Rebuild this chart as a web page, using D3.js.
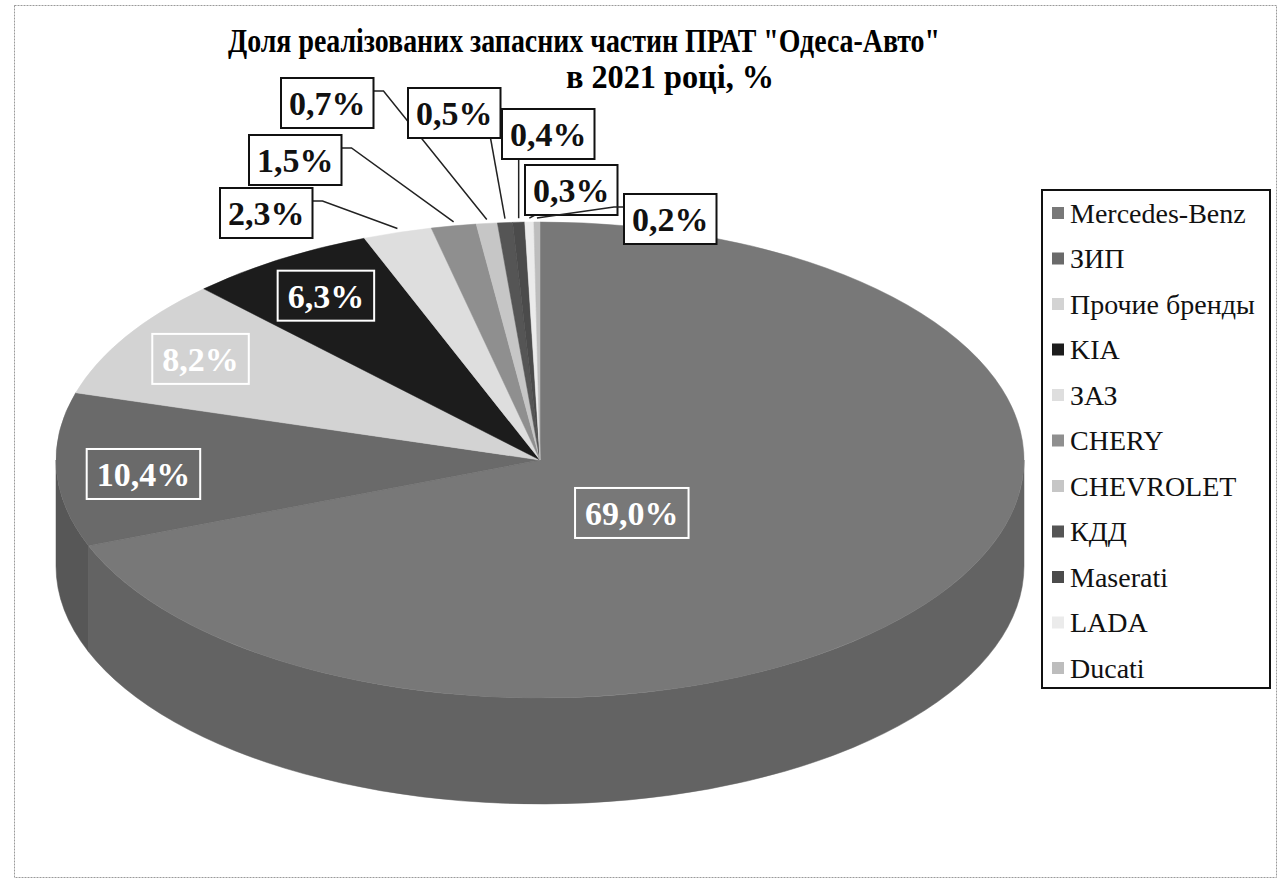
<!DOCTYPE html>
<html>
<head>
<meta charset="utf-8">
<script src="https://cdn.jsdelivr.net/npm/d3@7"></script>
<style>
  body { margin: 0; background: #fff; }
  svg { display: block; font-family: "Liberation Serif", "Times New Roman", serif; }
</style>
</head>
<body>
<svg id="chart" width="1285" height="892"></svg>
<script>
// data
const brands = ['Mercedes-Benz', 'ЗИП', 'Прочие бренды', 'KIA', 'ЗАЗ', 'CHERY', 'CHEVROLET', 'КДД', 'Maserati', 'LADA', 'Ducati'];
const shares = [69.0, 10.4, 8.2, 6.3, 2.3, 1.5, 0.7, 0.5, 0.4, 0.3, 0.2];
const titleLines = ['Доля реалізованих запасних частин ПРАТ "Одеса-Авто"', 'в 2021 році, %'];

// styles
const topColors = ['#787878', '#6a6a6a', '#d3d3d3', '#1c1c1c', '#dedede', '#8f8f8f', '#c6c6c6', '#555555', '#4b4b4b', '#ebebeb', '#bdbdbd'];
const sideColors = topColors.map(c => d3.color(c).darker(0.55).formatHex());

// layout
const svg = d3.select('svg#chart');
const cx = 540, cy = 460, rx = 484, ry = 238, depth = 106;
// hand-placed boxes of the outside labels (top-left corner), like dragged Excel labels
const outsideBoxes = { 4: [220, 188], 5: [249, 135], 6: [281, 78], 7: [408, 88], 8: [502, 109], 9: [525, 165], 10: [624, 194] };
const insideLabel = { 0: { f: 0.23, dy: 22 }, 1: { f: 0.82, dy: 6 }, 2: { f: 0.82, dy: 0 }, 3: { f: 0.82, dy: 0 } };

const xScale = d3.scaleLinear().domain([-1, 1]).range([cx - rx, cx + rx]);
const yScale = d3.scaleLinear().domain([-1, 1]).range([cy + ry, cy - ry]);
const pt = (a, f = 1, dz = 0) => [xScale(f * Math.sin(a)), yScale(f * Math.cos(a)) + dz];

const pie = d3.pie().sort(null).value(d => d);
const arcs = pie(shares);

// chart frame
svg.append('rect')
    .attr('x', 14.5).attr('y', 5.5).attr('width', 1262).attr('height', 872)
    .attr('fill', '#fff').attr('stroke', '#9a9a9a').attr('stroke-dasharray', '2,1');

// title
titleLines.forEach((t, i) => {
  svg.append('text')
      .attr('x', i === 0 ? 584 : 670)
      .attr('y', i === 0 ? 52 : 88)
      .attr('text-anchor', 'middle')
      .attr('font-weight', 'bold')
      .attr('font-size', 33)
      .attr('textLength', i === 0 ? 712 : 208)
      .attr('lengthAdjust', 'spacingAndGlyphs')
      .text(t);
});

const g = svg.append('g');

// outer walls, only the front half (PI/2 .. 3PI/2) can be seen
arcs.forEach((d, i) => {
  const a0 = Math.max(d.startAngle, Math.PI / 2);
  const a1 = Math.min(d.endAngle, 3 * Math.PI / 2);
  if (a1 <= a0) return;
  const p0 = pt(a0), p1 = pt(a1), q0 = pt(a0, 1, depth), q1 = pt(a1, 1, depth);
  g.append('path')
      .attr('d', `M${p0}A${rx},${ry} 0 0 1 ${p1}L${q1}A${rx},${ry} 0 0 0 ${q0}Z`)
      .attr('fill', sideColors[i])
      .attr('stroke', sideColors[i])
      .attr('stroke-width', 0.5);
});

// top faces
arcs.forEach((d, i) => {
  const p0 = pt(d.startAngle), p1 = pt(d.endAngle);
  const large = d.endAngle - d.startAngle > Math.PI ? 1 : 0;
  g.append('path')
      .attr('d', `M${cx},${cy}L${p0}A${rx},${ry} 0 ${large} 1 ${p1}Z`)
      .attr('fill', topColors[i])
      .attr('stroke', topColors[i])
      .attr('stroke-width', 0.5);
});

// labels
const labelText = shares.map(v => v.toFixed(1).replace('.', ',') + '%');
const labels = svg.append('g').attr('font-weight', 'bold').attr('font-size', 34);

arcs.forEach((d, i) => {
  const mid = (d.startAngle + d.endAngle) / 2;
  if (insideLabel[i]) {
    const c = pt(mid, insideLabel[i].f, insideLabel[i].dy);
    const t = labels.append('text')
        .attr('x', c[0]).attr('y', c[1]).attr('dy', '0.35em')
        .attr('text-anchor', 'middle').attr('fill', '#fff')
        .text(labelText[i]);
    const w = t.node().getComputedTextLength() + 20;
    labels.insert('rect', 'text')
        .attr('x', c[0] - w / 2).attr('y', c[1] - 25)
        .attr('width', w).attr('height', 50)
        .attr('fill', 'none').attr('stroke', '#fff').attr('stroke-width', 2);
    return;
  }
  const [bx, by] = outsideBoxes[i];
  const bh = 50;
  const t = labels.append('text')
      .attr('y', by + bh / 2).attr('dy', '0.35em')
      .attr('fill', '#111')
      .text(labelText[i]);
  const bw = t.node().getComputedTextLength() + 16;
  t.attr('x', bx + 8);
  const anchor = pt(mid, 1, -4);
  let pts;
  if (anchor[0] > bx + bw + 15) {
    pts = [[bx + bw, by + 13], [bx + bw + 10, by + 13], anchor];
  } else if (anchor[0] < bx - 4) {
    pts = [[bx, by + 13], [bx - 10, by + 13], anchor];
  } else {
    pts = [[Math.min(Math.max(anchor[0], bx + 10), bx + bw - 10), by + bh], anchor];
  }
  labels.insert('path', 'text')
      .attr('d', d3.line()(pts))
      .attr('fill', 'none').attr('stroke', '#222').attr('stroke-width', 1.5);
  labels.insert('rect', 'text')
      .attr('x', bx).attr('y', by).attr('width', bw).attr('height', bh)
      .attr('fill', '#fff').attr('stroke', '#111').attr('stroke-width', 2);
});

// legend
const legend = svg.append('g');
legend.append('rect')
    .attr('x', 1042).attr('y', 190).attr('width', 228).attr('height', 498)
    .attr('fill', '#fff').attr('stroke', '#111').attr('stroke-width', 2);
brands.forEach((b, i) => {
  const y = 213 + i * 45.5;
  legend.append('rect')
      .attr('x', 1052).attr('y', y - 6).attr('width', 12).attr('height', 12)
      .attr('fill', topColors[i]);
  legend.append('text')
      .attr('x', 1070).attr('y', y).attr('dy', '0.35em')
      .attr('font-size', 28).attr('fill', '#111')
      .text(b);
});
</script>
</body>
</html>
